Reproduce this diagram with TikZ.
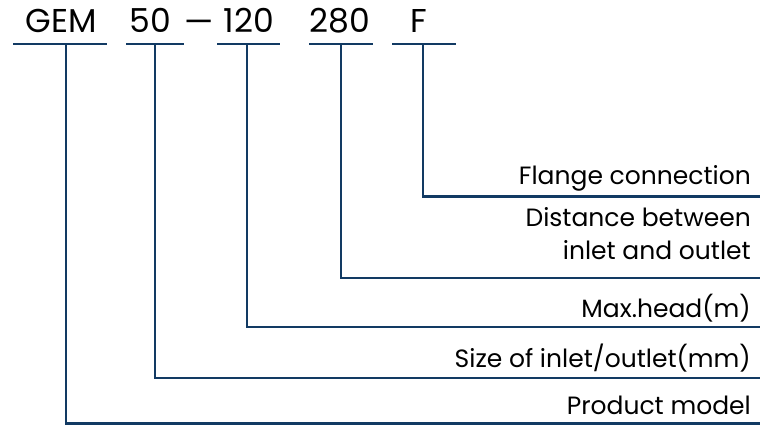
\documentclass[tikz,border=0pt]{standalone}
\usepackage{fontspec}
\setmainfont{Poppins}
\definecolor{navy}{HTML}{123A63}
\begin{document}
\begin{tikzpicture}[x=1pt,y=-1pt,
  code/.style={font=\fontsize{33}{33}\selectfont, anchor=base, text=black, inner sep=0pt},
  desc/.style={font=\fontsize{25}{33}\selectfont, anchor=base east, text=black, inner sep=0pt},
  ln/.style={line width=2.4pt, draw=navy},
  ul/.style={line width=2.2pt, draw=navy}]
\useasboundingbox (0,0) rectangle (770,425);
% code parts
\node[code] (gem) at (61.5,33) {GEM};
\node[code] (n50) at (150,33) {50};
\node[code] (dash) at (199.5,34) {—};
\node[code] (n120) at (249,33) {120};
\node[code] (n280) at (340,33) {280};
\node[code] (f) at (419,33) {F};
% underlines
\draw[ul] (13,44) -- (107,44);
\draw[ul] (126,44) -- (184,44);
\draw[ul] (217,44) -- (280,44);
\draw[ul] (309,44) -- (373,44);
\draw[ul] (392,44) -- (456,44);
\coordinate (gu) at (66,44);
\coordinate (n50u) at (155,44);
\coordinate (n120u) at (247,44);
\coordinate (n280u) at (341,44);
\coordinate (fu) at (423,44);
% descriptions
\node[desc] (d1) at (751,184) {Flange connection};
\node[desc] (d2a) at (751,226) {Distance between};
\node[desc] (d2b) at (751,259) {inlet and outlet};
\node[desc] (d3) at (751,317) {Max.head(m)};
\node[desc] (d4) at (751,367) {Size of inlet/outlet(mm)};
\node[desc] (d5) at (751,414) {Product model};
\coordinate (e1) at (760,196.5);
\coordinate (e2) at (760,278);
\coordinate (e3) at (760,327);
\coordinate (e4) at (760,378);
\coordinate (e5) at (760,423.5);
% connectors
\draw[ln] (fu) |- (e1);
\draw[ln] (n280u) |- (e2);
\draw[ln] (n120u) |- (e3);
\draw[ln] (n50u) |- (e4);
\draw[ln] (gu) |- (e5);
\end{tikzpicture}
\end{document}
